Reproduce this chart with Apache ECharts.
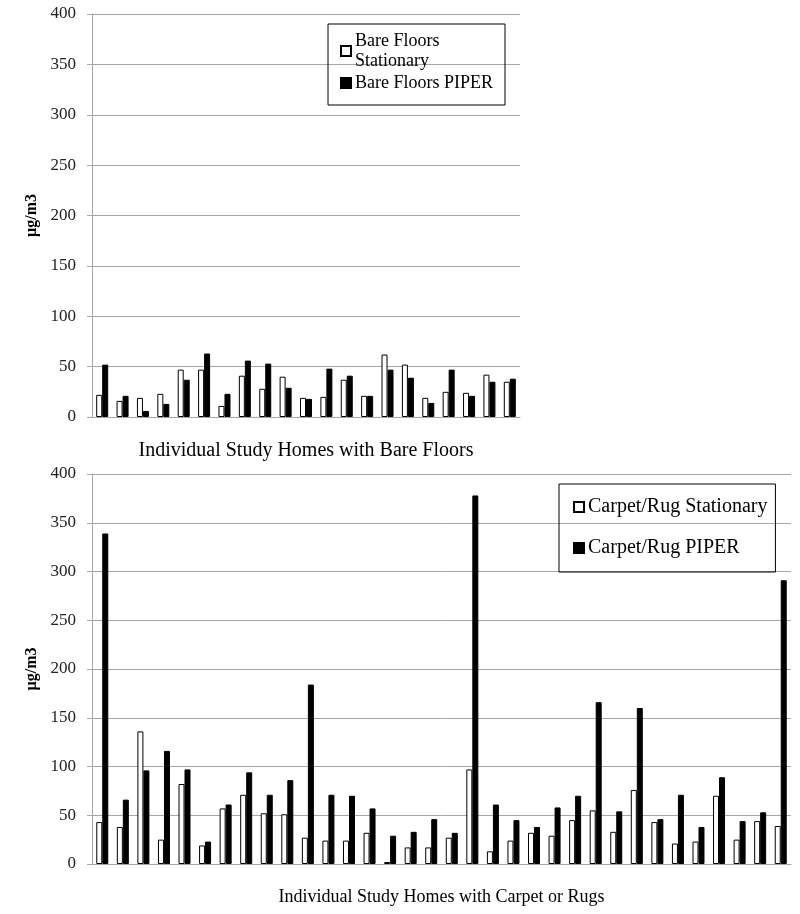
<!DOCTYPE html>
<html>
<head>
<meta charset="utf-8">
<script src="https://cdn.jsdelivr.net/npm/echarts@6/dist/echarts.min.js"></script>
<style>
  html, body { margin: 0; padding: 0; background: #fff; }
  #main { width: 800px; height: 914px; }
</style>
</head>
<body>
<div id="main"></div>
<script>
// bare floor homes (top chart)
var bareHomes = ['B1','B2','B3','B4','B5','B6','B7','B8','B9','B10','B11','B12','B13','B14','B15','B16','B17','B18','B19','B20','B21'];
var bareStationary = [22, 16, 19, 23, 47, 47, 11, 41, 28, 40, 19, 20, 37, 21, 62, 52, 19, 25, 24, 42, 35];
var barePiper = [52, 21, 6, 13, 37, 63, 23, 56, 53, 29, 18, 48, 41, 21, 47, 39, 14, 47, 21, 35, 38];

// carpet / rug homes (bottom chart)
var carpetHomes = ['C1','C2','C3','C4','C5','C6','C7','C8','C9','C10','C11','C12','C13','C14','C15','C16','C17',
                   'C18','C19','C20','C21','C22','C23','C24','C25','C26','C27','C28','C29','C30','C31','C32','C33','C34'];
var carpetStationary = [43, 38, 136, 25, 82, 19, 57, 71, 52, 51, 27, 24, 24, 32, 2, 17, 17,
                        27, 97, 13, 24, 32, 29, 45, 55, 33, 76, 43, 21, 23, 70, 25, 44, 39];
var carpetPiper = [339, 66, 96, 116, 97, 23, 61, 94, 71, 86, 184, 71, 70, 57, 29, 33, 46,
                   32, 378, 61, 45, 38, 58, 70, 166, 54, 160, 46, 71, 38, 89, 44, 53, 291];

var yTicks = [0, 50, 100, 150, 200, 250, 300, 350, 400];

var font = '"Liberation Serif", "DejaVu Serif", serif';
var gridColor = '#a6a6a6';

function valueAxis(idx) {
    return {
        type: 'value',
        gridIndex: idx,
        min: yTicks[0],
        max: yTicks[yTicks.length - 1],
        interval: yTicks[1] - yTicks[0],
        name: 'µg/m3',
        nameLocation: 'middle',
        nameRotate: 90,
        nameGap: 50,
        nameTextStyle: { fontFamily: font, fontSize: 16, fontWeight: 'bold', color: '#000' },
        axisLine: { show: true, lineStyle: { color: gridColor } },
        axisTick: { show: true, length: 5, lineStyle: { color: gridColor } },
        axisLabel: { fontFamily: font, fontSize: 17, color: '#222', margin: 16 },
        splitLine: { lineStyle: { color: gridColor, width: 1 } }
    };
}

function categoryAxis(idx, data, title, size) {
    return {
        type: 'category',
        gridIndex: idx,
        data: data,
        name: title,
        nameLocation: 'middle',
        nameGap: 24,
        nameTextStyle: { fontFamily: font, fontSize: size, color: '#000' },
        axisLine: { lineStyle: { color: gridColor } },
        axisTick: { show: false },
        axisLabel: { show: false }
    };
}

function whiteBar(name, idx, data) {
    return {
        name: name,
        type: 'bar',
        xAxisIndex: idx,
        yAxisIndex: idx,
        barWidth: 6,
        barGap: '0%',
        itemStyle: { color: '#fff', borderColor: '#000', borderWidth: 1 },
        data: data
    };
}

function blackBar(name, idx, data) {
    return {
        name: name,
        type: 'bar',
        xAxisIndex: idx,
        yAxisIndex: idx,
        barWidth: 6,
        barGap: '0%',
        itemStyle: { color: '#000', borderColor: '#000', borderWidth: 1 },
        data: data
    };
}

var chart = echarts.init(document.getElementById('main'));
var option = {
    backgroundColor: '#fff',
    animation: false,
    grid: [
        { left: 92, right: 280, top: 14, height: 403 },
        { left: 92, right: 9, top: 474, height: 390 }
    ],
    xAxis: [
        categoryAxis(0, bareHomes, 'Individual Study Homes with Bare Floors', 20),
        categoryAxis(1, carpetHomes, 'Individual Study Homes with Carpet or Rugs', 18)
    ],
    yAxis: [valueAxis(0), valueAxis(1)],
    legend: [
        {
            data: ['Bare Floors Stationary', 'Bare Floors PIPER'],
            left: 328,
            top: 24,
            orient: 'vertical',
            itemWidth: 10,
            itemHeight: 10,
            itemGap: 2,
            padding: [7, 12, 12, 12],
            borderColor: '#000',
            borderWidth: 1,
            icon: 'rect',
            formatter: function (n) {
                return n === 'Bare Floors Stationary' ? 'Bare Floors\nStationary' : n;
            },
            textStyle: { fontFamily: font, fontSize: 18, color: '#000', lineHeight: 20, padding: [0, 0, 0, -1] }
        },
        {
            data: ['Carpet/Rug Stationary', 'Carpet/Rug PIPER'],
            left: 559,
            top: 484,
            orient: 'vertical',
            itemWidth: 10,
            itemHeight: 10,
            itemGap: 21,
            padding: [13, 8, 14, 14],
            borderColor: '#000',
            borderWidth: 1,
            icon: 'rect',
            textStyle: { fontFamily: font, fontSize: 20, color: '#000', padding: [0, 0, 0, -1] }
        }
    ],
    series: [
        whiteBar('Bare Floors Stationary', 0, bareStationary),
        blackBar('Bare Floors PIPER', 0, barePiper),
        whiteBar('Carpet/Rug Stationary', 1, carpetStationary),
        blackBar('Carpet/Rug PIPER', 1, carpetPiper)
    ]
};
chart.setOption(option);
</script>
</body>
</html>
